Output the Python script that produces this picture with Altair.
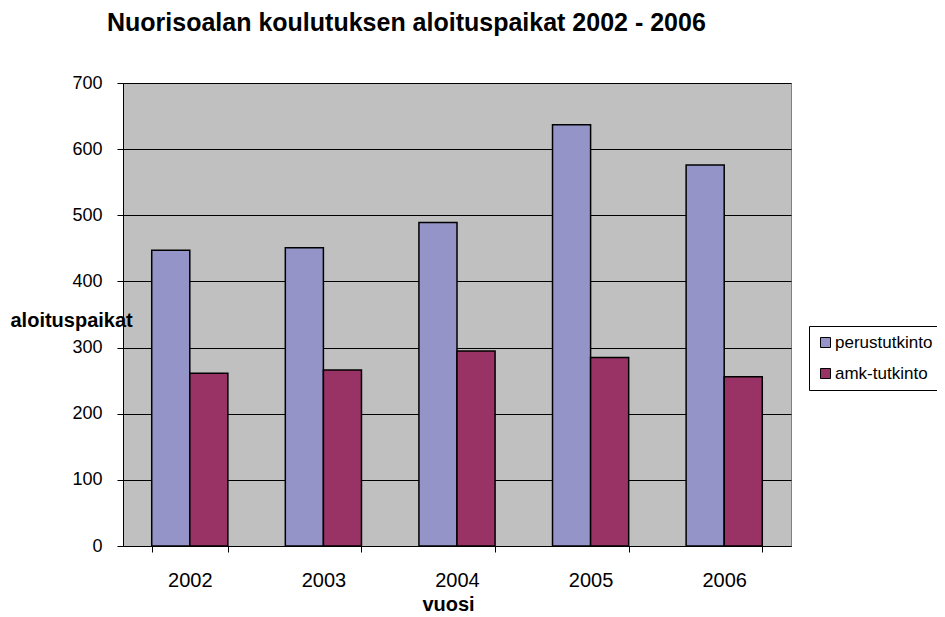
import altair as alt
import pandas as pd

years = ["2002", "2003", "2004", "2005", "2006"]
perustutkinto = [447, 451, 489, 637, 576]
amk_tutkinto = [261, 266, 295, 285, 256]
series = ["perustutkinto", "amk-tutkinto"]
colors = ["#9494C8", "#993366"]
y_ticks = [0, 100, 200, 300, 400, 500, 600, 700]

rows = []
for yr, p, a in zip(years, perustutkinto, amk_tutkinto):
    rows.append({"vuosi": yr, "sarja": series[0], "aloituspaikat": p})
    rows.append({"vuosi": yr, "sarja": series[1], "aloituspaikat": a})
df = pd.DataFrame(rows)

FONT = "Liberation Sans"

chart = alt.Chart(df).mark_bar(stroke="black", strokeWidth=1.5).encode(
    x=alt.X(
        "vuosi:N",
        sort=years,
        scale=alt.Scale(paddingInner=0.43, paddingOuter=0.215),
        axis=alt.Axis(
            title="vuosi",
            labelAngle=0,
            labelFont=FONT,
            labelFontSize=20,
            labelColor="black",
            labelPadding=18,
            tickBand="extent",
            tickSize=6,
            tickColor="black",
            domainColor="black",
            titleFont=FONT,
            titleFontSize=20,
            titleFontWeight="bold",
            titleColor="black",
            titleX=325,
            titleY=64,
            titleAlign="center",
            titleBaseline="alphabetic",
            grid=False,
        ),
    ),
    xOffset=alt.XOffset("sarja:N", sort=series),
    y=alt.Y(
        "aloituspaikat:Q",
        scale=alt.Scale(domain=[0, 700], nice=False),
        axis=alt.Axis(
            title="aloituspaikat",
            values=y_ticks,
            labelFont=FONT,
            labelFontSize=18,
            labelColor="black",
            labelPadding=15,
            tickSize=6,
            tickColor="black",
            domainColor="black",
            gridColor="black",
            gridWidth=1,
            titleFont=FONT,
            titleFontSize=20,
            titleFontWeight="bold",
            titleColor="black",
            titleAngle=0,
            titleX=-113,
            titleY=243,
            titleAlign="left",
            titleBaseline="alphabetic",
        ),
    ),
    color=alt.Color(
        "sarja:N",
        sort=series,
        scale=alt.Scale(domain=series, range=colors),
        legend=alt.Legend(
            title=None,
            orient="none",
            legendX=686,
            legendY=243,
            strokeColor="black",
            fillColor="white",
            padding=8,
            symbolType="square",
            symbolSize=100,
            symbolStrokeColor="black",
            symbolStrokeWidth=1,
            labelFont=FONT,
            labelFontSize=17,
            labelColor="black",
            labelOffset=1,
            rowPadding=13,
        ),
    ),
).properties(
    width=668,
    height=463,
    autosize="none",
    padding={"left": 115, "top": 75, "right": 146, "bottom": 68},
    title=alt.Title(
        "Nuorisoalan koulutuksen aloituspaikat 2002 - 2006",
        anchor="start",
        frame="group",
        font=FONT,
        fontSize=25,
        fontWeight="bold",
        color="black",
        dx=-16,
        offset=18,
        baseline="alphabetic",
    ),
).configure_view(
    fill="#C0C0C0", stroke="#808080", strokeWidth=1
)

chart.save("out.html", embed_options={"renderer": "svg", "actions": False})
